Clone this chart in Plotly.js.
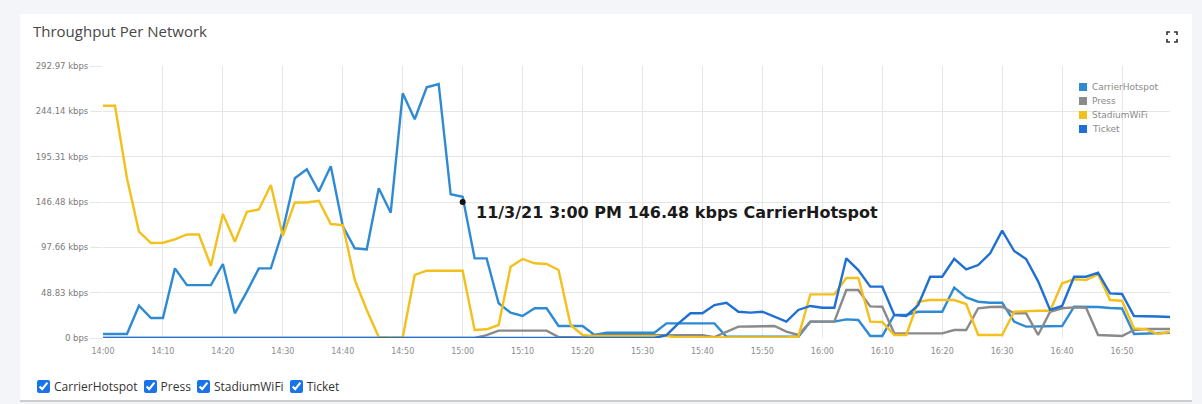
<!DOCTYPE html>
<html><head><meta charset="utf-8">
<script src="https://cdn.plot.ly/plotly-3.0.1.min.js"></script>
<style>
html,body{margin:0;padding:0;width:1202px;height:404px;overflow:hidden;background:#f4f5f8;}
#card{position:absolute;left:20px;top:14px;width:1172px;height:386px;background:#fff;border-bottom:2px solid #cdcdcd;}
#chart{position:absolute;left:0;top:0;width:1202px;height:404px;}
#checks{position:absolute;left:37px;top:378px;font-family:"Open Sans",sans-serif;font-size:12px;color:#333;display:flex;align-items:center;z-index:5;}
#checks label{display:flex;align-items:center;margin-right:6px;}
#checks input{width:13px;height:13px;margin:0 4px 0 0;accent-color:#1a73e8;}
#expand{position:absolute;left:1166px;top:31px;z-index:5;}
</style></head>
<body>
<div id="card"></div>
<div id="chart"></div>
<div id="checks"></div>
<svg id="expand" width="12" height="12" viewBox="0 0 12 12"><path d="M1 4V1H4M8 1H11V4M11 8V11H8M4 11H1V8" fill="none" stroke="#333" stroke-width="1.6"/></svg>
<script>
// ---- data ----
var times = ["14:00","14:02","14:04","14:06","14:08","14:10","14:12","14:14","14:16","14:18",
"14:20","14:22","14:24","14:26","14:28","14:30","14:32","14:34","14:36","14:38",
"14:40","14:42","14:44","14:46","14:48","14:50","14:52","14:54","14:56","14:58",
"15:00","15:02","15:04","15:06","15:08","15:10","15:12","15:14","15:16","15:18",
"15:20","15:22","15:24","15:26","15:28","15:30","15:32","15:34","15:36","15:38",
"15:40","15:42","15:44","15:46","15:48","15:50","15:52","15:54","15:56","15:58",
"16:00","16:02","16:04","16:06","16:08","16:10","16:12","16:14","16:16","16:18",
"16:20","16:22","16:24","16:26","16:28","16:30","16:32","16:34","16:36","16:38",
"16:40","16:42","16:44","16:46","16:48","16:50","16:52","16:54","16:56","16:58"];

var carrierHotspot = [4.3,4.3,4.3,34.8,21.5,21.5,75,57,57,57,
79.7,26.6,50,75,75,116,172,181.7,157.8,185,
120.6,96.6,95.5,161.2,135,263.6,235.6,270,273.6,154.8,
152,85.8,85.8,37.4,27.3,23.7,32,32,12.9,12.9,
12.9,3.2,5.7,5.7,5.7,5.7,5.7,15.8,15.8,15.8,
15.8,15.8,1.4,1.4,1.4,1.4,1.4,1.4,1.4,17.6,
17.6,17.6,20.1,19.4,2.2,2.2,24.8,24.8,28.3,28.3,
28.3,54.2,43.8,39.1,38,38,17.6,12.2,12.2,12.2,
12.9,33.7,33.7,33.4,32.3,31.8,4.3,4.8,5.4,5.7];

var press = [0,0,0,0,0,0,0,0,0,0,
0,0,0,0,0,0,0,0,0,0,
0,0,0,0,0,0,0,0,0,0,
0,0,3,7.9,7.9,7.9,7.9,7.9,1,0.5,
0.5,3,3,3,3,3,3,3,3,3,
3,1,6.8,12.2,12.4,12.9,12.9,6.8,3.2,17.6,
17.6,17.6,51.7,51.7,34.1,33.7,5,5,5,5,
5,8.6,8.6,32,33.4,33.7,26.6,26.6,3.2,28.3,
32,33,32.6,3.2,2.7,2.2,8.6,9.7,9.7,9.7];

var stadiumWiFi = [250.2,250.2,172,114.7,102.3,102.6,106.3,111.5,111.5,77.6,
133.6,103.7,136,138.4,164.8,109.9,146,146,147.9,122.8,
121.7,62.5,30.2,1,0.5,0.5,67.9,72.5,72.5,72.5,
72.5,8.6,9.4,14,76.8,85.1,80.5,79.7,73.2,14,
3.2,2,2,2,2,2,2,2,0.5,0.5,
0.5,0.5,0.5,0.5,0.5,0.5,0.5,0.5,1.4,47,
47,47,64.6,64.6,17.6,17.2,3.2,3.2,39.1,40.9,
40.9,40.9,36.6,3.2,3.2,3.2,28.3,29,29.4,29.4,
58.9,63.2,62.5,68.6,40.9,40.2,10.4,9.4,4.3,6.8];

var ticket = [0,0,0,0,0,0,0,0,0,0,
0,0,0,0,0,0,0,0,0,0,
0,0,0,0,0,0,0,0,0,0,
0,0,0,0,0,0,0,0,0,0,
0,0,0,0,0,0,0,3,15.8,26.6,
26.6,35.5,38,28.3,27.3,28.3,22.9,17.6,30.2,34.5,
32.6,32.6,85.8,73.2,55.3,55.3,24.8,23.7,35.5,66,
66,85.2,74,78.6,91.2,115.6,93.7,85.1,61,30.2,
34.5,66,66,70.3,48.1,47.4,23.7,23.7,23.2,22.6];

var seriesNames = ["CarrierHotspot","Press","StadiumWiFi","Ticket"];
var yTickVals = [0,48.83,97.66,146.48,195.31,244.14,292.97];
var yTickText = ["0 bps","48.83 kbps","97.66 kbps","146.48 kbps","195.31 kbps","244.14 kbps","292.97 kbps"];
var day = "2021-11-03";
var tipTime = "15:00", tipLabel = "11/3/21 3:00 PM", tipValue = 146.48, tipSeries = "CarrierHotspot";

// ---- styles ----
var colors = ["#2f8ad4","#8a8a8a","#f3c01c","#1f70d2"];
var seriesData = [carrierHotspot, press, stadiumWiFi, ticket];
var xs = times.map(function(t){return day+" "+t;});

var traces = seriesNames.map(function(n,i){
  return {x:xs, y:seriesData[i], name:n, type:"scatter", mode:"lines",
    line:{color:colors[i], width:2.4}, cliponaxis:false, hoverinfo:"skip", showlegend:false};
});
traces.push({x:[day+" "+tipTime], y:[tipValue], type:"scatter", mode:"markers",
  marker:{color:"#111", size:6}, hoverinfo:"skip", showlegend:false, cliponaxis:false});

var W=1202,H=404,ml=103,mr=32,mt=66,mb=66;
var pw=W-ml-mr, ph=H-mt-mb;
function px(x){return (x-ml)/pw;}
function py(y){return (H-mb-y)/ph;}

var annotations = [{
  x: day+" "+tipTime, y: tipValue, xref:"x", yref:"y",
  text: "<b>"+tipLabel+" "+tipValue.toFixed(2)+" kbps "+tipSeries+"</b>",
  showarrow:false, xanchor:"left", yanchor:"middle", xshift:11, yshift:-10,
  font:{family:"DejaVu Sans", size:16, color:"#1a1a1a"}
}];
var shapes = [];
seriesNames.forEach(function(n,i){
  var yc = 87 + i*14;
  annotations.push({x:px(1090), y:py(yc), xref:"paper", yref:"paper", text:n, showarrow:false,
    xanchor:"left", yanchor:"middle", font:{family:"DejaVu Sans", size:9, color:"#8a8a8a"}});
  shapes.push({type:"rect", xref:"paper", yref:"paper", x0:px(1079), x1:px(1087), y0:py(yc+4), y1:py(yc-4),
    fillcolor:colors[i], line:{width:0}});
});

var layout = {
  width:W, height:H, margin:{l:ml, r:mr, t:mt, b:mb},
  paper_bgcolor:"rgba(0,0,0,0)", plot_bgcolor:"rgba(0,0,0,0)",
  title:{text:"Throughput Per Network", x:33/W, xanchor:"left", y:1-32/H, yanchor:"middle",
    font:{family:"Open Sans", size:15, color:"#474747"}},
  showlegend:false,
  xaxis:{type:"date", range:[day+" 14:00", day+" 16:58"], tickformat:"%H:%M", dtick:600000, tick0:day+" 14:00",
    showgrid:true, gridcolor:"#e6e6e6", gridwidth:1, zeroline:false, showline:false,
    ticks:"outside", ticklen:5, tickcolor:"rgba(0,0,0,0)",
    tickfont:{family:"DejaVu Sans", size:8, color:"#8c8c8c"}, fixedrange:true},
  yaxis:{range:[0,292.97], tickvals:yTickVals, ticktext:yTickText,
    showgrid:true, gridcolor:"#e6e6e6", gridwidth:1, zeroline:false, showline:false,
    ticks:"outside", ticklen:12, tickcolor:"#e6e6e6",
    tickfont:{family:"DejaVu Sans", size:8.5, color:"#7a7a7a"}, fixedrange:true},
  annotations:annotations, shapes:shapes
};

Plotly.newPlot("chart", traces, layout, {displayModeBar:false, staticPlot:true});

var checks = document.getElementById("checks");
seriesNames.forEach(function(n){
  var l = document.createElement("label");
  var c = document.createElement("input"); c.type="checkbox"; c.checked=true;
  l.appendChild(c); l.appendChild(document.createTextNode(n));
  checks.appendChild(l);
});
</script>
</body></html>
